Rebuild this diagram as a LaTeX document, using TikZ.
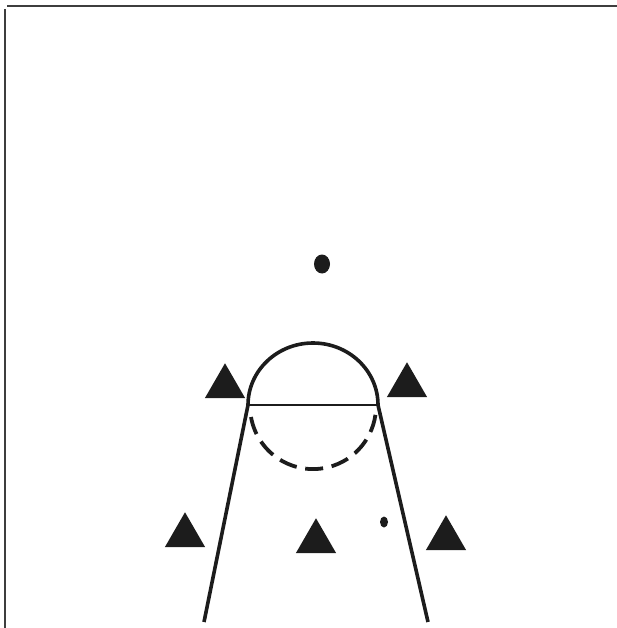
\documentclass[tikz,border=0pt]{standalone}
\usepackage{xcolor}
\usetikzlibrary{shapes.geometric}
\definecolor{InkBlack}{RGB}{28,28,28}

\begin{document}
\begin{tikzpicture}[
  x=1pt, y=-1pt,
  player/.style={regular polygon, regular polygon sides=3, fill=InkBlack, inner sep=0pt, minimum size=46.5pt},
  ball/.style={ellipse, fill=InkBlack, inner sep=0pt, minimum width=16pt, minimum height=19pt},
  speck/.style={ellipse, fill=InkBlack, inner sep=0pt, minimum width=8pt, minimum height=11pt},
  frameline/.style={draw=InkBlack!85, line width=1.4pt},
  court/.style={draw=InkBlack, line width=3.6pt},
  freeline/.style={draw=InkBlack, line width=2.6pt},
  circledash/.style={draw=InkBlack, line width=3.8pt, dash pattern=on 18pt off 8.7pt}
]
\useasboundingbox (0,0) rectangle (617,628);

\coordinate (topcorner) at (7,6);
\coordinate (topend) at (617,6);
\coordinate (leftcorner) at (5,9);
\coordinate (leftend) at (5,628);
\coordinate (postleft) at (248,405);
\coordinate (postright) at (378,405);
\coordinate (laneleft) at (204,622);
\coordinate (laneright) at (428,622);
\coordinate (dashstart) at (251,417);

\node[player] (wingleft) at (225,386.5) {};
\node[player] (wingright) at (407,385.5) {};
\node[player] (cornerleft) at (185,535.5) {};
\node[player] (middle) at (316,541.5) {};
\node[player] (cornerright) at (446,538.5) {};
\node[ball] (ballspot) at (322,264) {};
\node[speck] (dot) at (384,522) {};

\draw[frameline] (topcorner) -- (topend);
\draw[frameline] (leftcorner) -- (leftend);
\draw[court] (postleft) -- (laneleft);
\draw[court] (postright) -- (laneright);
\draw[freeline] (postleft) -- (postright);
\draw[court] (postleft) arc[start angle=180, end angle=0, x radius=65, y radius=-62];
\draw[circledash] (dashstart) arc[start angle=190, end angle=352, x radius=63, y radius=-63];
\end{tikzpicture}
\end{document}
